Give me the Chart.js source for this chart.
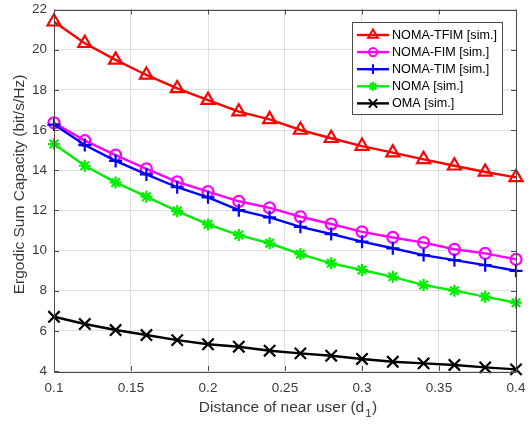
<!DOCTYPE html>
<html>
<head>
<meta charset="utf-8">
<script src="https://cdn.jsdelivr.net/npm/chart.js@4/dist/chart.umd.min.js"></script>
<style>
  html, body { margin: 0; padding: 0; background: #fff; }
  #chart-area { display: block; }
</style>
</head>
<body>
<canvas id="chart-area" width="531" height="424"></canvas>
<script>
// distance of near user (d1)
const distances = [0.1, 0.12, 0.14, 0.16, 0.18, 0.2, 0.22, 0.24, 0.26, 0.28, 0.3, 0.32, 0.34, 0.36, 0.38, 0.4];

// ergodic sum capacity
const nomaTfim = [21.39, 20.32, 19.49, 18.74, 18.07, 17.49, 16.91, 16.53, 16.0, 15.59, 15.2, 14.87, 14.54, 14.22, 13.91, 13.64];
const nomaFim  = [16.36, 15.47, 14.75, 14.06, 13.42, 12.93, 12.45, 12.12, 11.68, 11.32, 10.93, 10.65, 10.39, 10.06, 9.86, 9.56];
const nomaTim  = [16.27, 15.25, 14.46, 13.79, 13.15, 12.65, 12.01, 11.65, 11.18, 10.82, 10.44, 10.11, 9.77, 9.52, 9.27, 8.99];
const noma     = [15.3, 14.22, 13.39, 12.68, 11.96, 11.3, 10.77, 10.36, 9.82, 9.36, 9.03, 8.69, 8.28, 8.0, 7.7, 7.4];
const oma      = [6.7, 6.34, 6.04, 5.79, 5.54, 5.33, 5.21, 5.01, 4.88, 4.76, 4.6, 4.46, 4.38, 4.3, 4.18, 4.08];

const seriesLabels = ['NOMA-TFIM [sim.]', 'NOMA-FIM [sim.]', 'NOMA-TIM [sim.]', 'NOMA [sim.]', 'OMA [sim.]'];
const xTicks = [0.1, 0.15, 0.2, 0.25, 0.3, 0.35, 0.4];
const yTicks = [4, 6, 8, 10, 12, 14, 16, 18, 20, 22];

const FONT = '"Liberation Sans", Arial, Helvetica, sans-serif';
const AXIS_COLOR = '#4a4a4a';
const TEXT_COLOR = '#3a3a3a';

function toPoints(values) {
    return values.map((v, i) => ({x: distances[i], y: v}));
}

function series(label, values, color, style, radius, order) {
    return {
        label: label,
        data: toPoints(values),
        borderColor: color,
        backgroundColor: color,
        borderWidth: 2.4,
        pointStyle: style,
        pointRadius: radius,
        pointHoverRadius: radius,
        pointBorderWidth: 2.2,
        pointBorderColor: color,
        pointBackgroundColor: 'rgba(0,0,0,0)',
        tension: 0,
        clip: false,
        order: order
    };
}

// box, inward ticks, axis titles, legend like the matlab figure
const matlabFrame = {
    id: 'matlabFrame',
    afterDraw(chart) {
        const ctx = chart.ctx;
        const a = chart.chartArea;
        const xs = chart.scales.x, ys = chart.scales.y;
        ctx.save();
        ctx.strokeStyle = AXIS_COLOR;
        ctx.lineWidth = 1;
        ctx.beginPath();
        ctx.rect(Math.round(a.left) + 0.5, Math.round(a.top) + 0.5,
                 Math.round(a.right - a.left), Math.round(a.bottom - a.top));
        ctx.stroke();

        const tl = 5;
        ctx.beginPath();
        xTicks.forEach(t => {
            const px = Math.round(xs.getPixelForValue(t)) + 0.5;
            ctx.moveTo(px, a.bottom); ctx.lineTo(px, a.bottom - tl);
            ctx.moveTo(px, a.top); ctx.lineTo(px, a.top + tl);
        });
        yTicks.forEach(t => {
            const py = Math.round(ys.getPixelForValue(t)) + 0.5;
            ctx.moveTo(a.left, py); ctx.lineTo(a.left + tl, py);
            ctx.moveTo(a.right, py); ctx.lineTo(a.right - tl, py);
        });
        ctx.stroke();

        // axis titles
        ctx.fillStyle = TEXT_COLOR;
        ctx.font = '15.5px ' + FONT;
        ctx.textBaseline = 'alphabetic';
        const t1 = 'Distance of near user (d', t2 = '1', t3 = ')';
        const w1 = ctx.measureText(t1).width;
        const w3 = ctx.measureText(t3).width;
        ctx.font = '11.5px ' + FONT;
        const w2 = ctx.measureText(t2).width + 1.5;
        let x0 = 288 - (w1 + w2 + w3) / 2;
        const by = 411.5;
        ctx.font = '15.5px ' + FONT;
        ctx.textAlign = 'left';
        ctx.fillText(t1, x0, by);
        ctx.font = '11.5px ' + FONT;
        ctx.fillText(t2, x0 + w1 + 1, by + 5);
        ctx.font = '15.5px ' + FONT;
        ctx.fillText(t3, x0 + w1 + w2, by);

        ctx.save();
        ctx.translate(19.5, 184.5);
        ctx.rotate(-Math.PI / 2);
        ctx.textAlign = 'center';
        ctx.textBaseline = 'middle';
        ctx.fillText('Ergodic Sum Capacity (bit/s/Hz)', 0, 0);
        ctx.restore();

        // legend
        const lx = 352.5, ly = 22.5, lw = 150, lh = 92;
        ctx.fillStyle = '#ffffff';
        ctx.fillRect(lx, ly, lw, lh);
        ctx.strokeStyle = AXIS_COLOR;
        ctx.lineWidth = 1;
        ctx.strokeRect(lx, ly, lw, lh);
        ctx.font = '12.6px ' + FONT;
        ctx.textAlign = 'left';
        ctx.textBaseline = 'middle';
        chart.data.datasets.forEach((ds, i) => {
            const ry = 35 + i * 17.1;
            ctx.strokeStyle = ds.borderColor;
            ctx.lineWidth = 2.4;
            ctx.beginPath();
            ctx.moveTo(357, ry); ctx.lineTo(389, ry);
            ctx.stroke();
            ctx.lineWidth = 2;
            ctx.fillStyle = 'rgba(0,0,0,0)';
            Chart.helpers.drawPoint(ctx, {pointStyle: ds.pointStyle, radius: ds.pointRadius * 0.75, borderWidth: 2, rotation: 0}, 373, ry);
            ctx.fillStyle = '#000000';
            ctx.fillText(ds.label, 392, ry + 0.5);
        });
        ctx.restore();
    }
};

const ctx = document.getElementById('chart-area').getContext('2d');
const chart = new Chart(ctx, {
    type: 'line',
    data: {
        datasets: [
            series(seriesLabels[0], nomaTfim, '#ff0000', 'triangle', 7.5, 5),
            series(seriesLabels[1], nomaFim, '#ff00ff', 'circle', 5.5, 4),
            series(seriesLabels[2], nomaTim, '#0000ff', 'cross', 6.5, 3),
            series(seriesLabels[3], noma, '#00ee00', 'star', 6, 2),
            series(seriesLabels[4], oma, '#000000', 'crossRot', 8, 1)
        ]
    },
    options: {
        responsive: false,
        devicePixelRatio: 1,
        animation: false,
        events: [],
        layout: {
            autoPadding: false,
            padding: {top: 9.5, right: 15, left: 0, bottom: 0}
        },
        plugins: {
            legend: {display: false},
            tooltip: {enabled: false},
            title: {display: false}
        },
        scales: {
            x: {
                type: 'linear',
                min: 0.1,
                max: 0.4,
                afterFit: (scale) => {
                    scale.height = 424 - 371;
                    scale.paddingLeft = 0;
                    scale.paddingRight = 0;
                },
                afterBuildTicks: (scale) => { scale.ticks = xTicks.map(v => ({value: v})); },
                ticks: {
                    color: TEXT_COLOR,
                    font: {family: FONT, size: 13.5},
                    padding: 9,
                    maxRotation: 0,
                    callback: (value) => String(parseFloat(value.toFixed(2)))
                },
                grid: {
                    display: true,
                    drawTicks: false,
                    color: 'rgba(38,38,38,0.15)'
                },
                border: {display: false}
            },
            y: {
                type: 'linear',
                min: 4,
                max: 22,
                afterFit: (scale) => {
                    scale.width = 54;
                    scale.paddingTop = 0;
                    scale.paddingBottom = 0;
                },
                afterBuildTicks: (scale) => { scale.ticks = yTicks.map(v => ({value: v})); },
                ticks: {
                    color: TEXT_COLOR,
                    font: {family: FONT, size: 13.5},
                    padding: 7,
                    callback: (value) => String(value)
                },
                grid: {
                    display: true,
                    drawTicks: false,
                    color: 'rgba(38,38,38,0.15)'
                },
                border: {display: false}
            }
        }
    },
    plugins: [matlabFrame]
});
</script>
</body>
</html>
